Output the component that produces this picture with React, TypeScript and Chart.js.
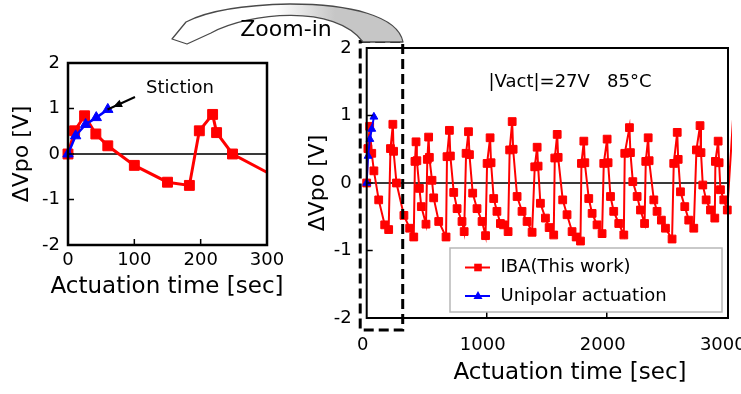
import React, { useEffect, useRef } from "react";
import { Chart, registerables } from "chart.js";

Chart.register(...registerables);

const FONT = "'DejaVu Sans', 'Liberation Sans', sans-serif";

// IBA (this work): actuation time [sec] and ΔVpo [V]
const ibaTime = [
  0, 10, 25, 42, 60, 100, 150, 183, 198, 218, 224, 248, 310, 358, 392,
  402, 411, 418, 439, 455, 494,
  505, 516, 522, 544, 558, 600, 661,
  669, 689, 697, 725, 753, 794, 812,
  828, 848, 856, 883, 919, 961, 990,
  1003, 1028, 1036, 1058, 1085, 1114, 1140, 1178,
  1191, 1212, 1220, 1253, 1294, 1336, 1378,
  1400, 1420, 1428, 1447, 1489, 1520, 1558,
  1567, 1587, 1595, 1633, 1669, 1711, 1745, 1781,
  1789, 1809, 1817, 1850, 1878, 1919, 1961,
  1975, 2003, 2011, 2031, 2058, 2100, 2142,
  2150, 2189, 2197, 2217, 2253, 2281, 2315,
  2325, 2345, 2353, 2392, 2419, 2455, 2489, 2544,
  2558, 2587, 2595, 2614, 2650, 2683, 2725,
  2747, 2777, 2785, 2800, 2828, 2864, 2900,
  2905, 2928, 2936, 2947, 2975, 3004, 3075,
];
const ibaDv = [
  0, 0.51, 0.84, 0.44, 0.18, -0.25, -0.62, -0.69, 0.51, 0.87, 0.47, 0, -0.48, -0.67, -0.8,
  0.32, 0.61, 0.33, -0.08, -0.35, -0.61,
  0.35, 0.68, 0.38, 0.04, -0.22, -0.57, -0.8,
  0.39, 0.78, 0.4, -0.14, -0.38, -0.57, -0.72,
  0.44, 0.76, 0.42, -0.15, -0.38, -0.57, -0.78,
  0.29, 0.67, 0.3, -0.23, -0.42, -0.6, -0.62, -0.72,
  0.49, 0.91, 0.5, -0.2, -0.42, -0.57, -0.73,
  0.24, 0.53, 0.25, -0.3, -0.52, -0.66, -0.77,
  0.37, 0.72, 0.38, -0.25, -0.47, -0.72, -0.8, -0.86,
  0.29, 0.62, 0.3, -0.23, -0.45, -0.62, -0.75,
  0.29, 0.65, 0.3, -0.2, -0.42, -0.6, -0.77,
  0.44, 0.82, 0.45, 0.02, -0.2, -0.4, -0.6,
  0.32, 0.67, 0.33, -0.25, -0.42, -0.55, -0.67, -0.83,
  0.29, 0.75, 0.35, -0.13, -0.35, -0.55, -0.67,
  0.49, 0.85, 0.45, -0.03, -0.25, -0.4, -0.52,
  0.32, 0.62, 0.3, -0.1, -0.25, -0.4, 1.6,
];

// Unipolar actuation: stiction after ~60 s
const uniTime = [0, 11.5, 26.5, 42.6, 60];
const uniDv = [0, 0.4, 0.65, 0.8, 0.98];

const yTicks = [-2, -1, 0, 1, 2];
const zoomXTicks = [0, 100, 200, 300];
const fullXTicks = [0, 1000, 2000, 3000];

const seriesLabels = ["IBA(This work)", "Unipolar actuation"];
const conditionText = "|Vact|=27V   85°C";
const stictionText = "Stiction";
const zoomText = "Zoom-in";
const xTitle = "Actuation time [sec]";
const yTitle = "ΔVpo [V]";

const RED = "#ff0000";
const BLUE = "#0000ff";

type Pt = { x: number; y: number };
const toPoints = (xs: number[], ys: number[]): Pt[] => xs.map((x, i) => ({ x, y: ys[i] }));

// zero line under the data; box frame, inward tick marks and x title on top
const boxAxes = {
  id: "boxAxes",
  beforeDatasetsDraw(chart: any, _a: any, o: any) {
    const { ctx, chartArea: a, scales } = chart;
    const y0 = scales.y.getPixelForValue(0);
    ctx.save();
    ctx.strokeStyle = "#3a3a3a";
    ctx.lineWidth = o.zeroWidth;
    ctx.beginPath();
    ctx.moveTo(a.left, y0);
    ctx.lineTo(a.right, y0);
    ctx.stroke();
    ctx.restore();
  },
  afterDatasetsDraw(chart: any, _a: any, o: any) {
    const { ctx, chartArea: a, scales } = chart;
    ctx.save();
    ctx.strokeStyle = "#000";
    ctx.lineWidth = o.frameWidth;
    ctx.strokeRect(a.left, a.top, a.right - a.left, a.bottom - a.top);
    ctx.lineWidth = o.tickWidth;
    ctx.beginPath();
    for (const t of scales.x.ticks) {
      if (t.value > scales.x.min && t.value < scales.x.max - 20) {
        const px = scales.x.getPixelForValue(t.value);
        ctx.moveTo(px, a.bottom);
        ctx.lineTo(px, a.bottom - o.tickLen);
      }
    }
    for (const t of scales.y.ticks) {
      if (t.value > scales.y.min && t.value < scales.y.max) {
        const py = scales.y.getPixelForValue(t.value);
        ctx.moveTo(a.left, py);
        ctx.lineTo(a.left + o.tickLen, py);
      }
    }
    ctx.stroke();

    ctx.fillStyle = "#000";
    ctx.font = `23px ${FONT}`;
    ctx.textAlign = "center";
    ctx.textBaseline = "middle";
    ctx.fillText(xTitle, o.titleX, o.titleY);
    ctx.restore();
  },
};

function buildOptions(c: {
  xMax: number;
  xTickValues: number[];
  yWidth: number;
  xHeight: number;
  padTop: number;
  padRight: number;
  xTickPad: number;
  yTickPad: number;
  xLabelOffset: number;
  yTitlePad: number;
  frameWidth: number;
  titleX: number;
  titleY: number;
}) {
  const tickFont = { family: FONT, size: 18 };
  const plain = (v: any) => String(v);
  return {
    responsive: false,
    maintainAspectRatio: false,
    animation: false as const,
    events: [],
    layout: { padding: { left: 0, right: c.padRight, top: c.padTop, bottom: 0 } },
    plugins: {
      legend: { display: false },
      tooltip: { enabled: false },
      boxAxes: {
        frameWidth: c.frameWidth,
        tickWidth: 1.5,
        tickLen: 6,
        zeroWidth: 2,
        titleX: c.titleX,
        titleY: c.titleY,
      },
    },
    scales: {
      x: {
        type: "linear" as const,
        min: 0,
        max: c.xMax,
        grid: { display: false, drawTicks: false },
        border: { display: false },
        ticks: {
          includeBounds: false,
          autoSkip: false,
          maxRotation: 0,
          padding: c.xTickPad,
          labelOffset: c.xLabelOffset,
          color: "#000",
          font: tickFont,
          callback: plain,
        },
        afterBuildTicks: (s: any) => {
          s.ticks = c.xTickValues.map((v) => ({ value: v }));
        },
        afterFit: (s: any) => {
          s.height = c.xHeight;
          s.paddingLeft = 0;
          s.paddingRight = 0;
        },
        title: { display: false },
      },
      y: {
        type: "linear" as const,
        min: -2,
        max: 2,
        grid: { display: false, drawTicks: false },
        border: { display: false },
        ticks: { padding: c.yTickPad, color: "#000", font: tickFont, callback: plain },
        afterBuildTicks: (s: any) => {
          s.ticks = yTicks.map((v) => ({ value: v }));
        },
        afterFit: (s: any) => {
          s.width = c.yWidth;
          s.paddingTop = 0;
          s.paddingBottom = 0;
        },
        title: {
          display: true,
          text: yTitle,
          color: "#000",
          font: { family: FONT, size: 22 },
          padding: { top: c.yTitlePad, bottom: 0 },
        },
      },
    },
  };
}

// "Stiction" label with its pointer arrow
const stictionNote = {
  id: "stictionNote",
  afterDraw(chart: any) {
    const { ctx } = chart;
    ctx.save();
    ctx.fillStyle = "#000";
    ctx.font = `18px ${FONT}`;
    ctx.textAlign = "center";
    ctx.textBaseline = "middle";
    ctx.fillText(stictionText, 180, 48);
    const x1 = 135, y1 = 57, x2 = 113, y2 = 67;
    const ang = Math.atan2(y2 - y1, x2 - x1);
    ctx.strokeStyle = "#000";
    ctx.lineWidth = 2;
    ctx.beginPath();
    ctx.moveTo(x1, y1);
    ctx.lineTo(x2 + 6 * Math.cos(ang), y2 + 6 * Math.sin(ang));
    ctx.stroke();
    ctx.beginPath();
    ctx.moveTo(x2, y2);
    ctx.lineTo(x2 - 9 * Math.cos(ang) + 4 * Math.sin(ang), y2 - 9 * Math.sin(ang) - 4 * Math.cos(ang));
    ctx.lineTo(x2 - 9 * Math.cos(ang) - 4 * Math.sin(ang), y2 - 9 * Math.sin(ang) + 4 * Math.cos(ang));
    ctx.closePath();
    ctx.fill();
    ctx.restore();
  },
};

// dashed zoom window, test condition and legend box
const overviewNotes = {
  id: "overviewNotes",
  afterDraw(chart: any) {
    const { ctx, chartArea: a, scales } = chart;
    ctx.save();
    // zoomed region 0–300 s
    const xr = scales.x.getPixelForValue(zoomXTicks[zoomXTicks.length - 1]);
    ctx.strokeStyle = "#000";
    ctx.lineWidth = 3;
    ctx.setLineDash([10, 5]);
    ctx.strokeRect(a.left - 6.5, a.top - 6.5, xr - (a.left - 6.5), a.bottom + 12 - (a.top - 6.5));
    ctx.setLineDash([]);

    ctx.fillStyle = "#000";
    ctx.font = `18px ${FONT}`;
    ctx.textAlign = "center";
    ctx.textBaseline = "middle";
    ctx.fillText(conditionText, 270, 52);

    // legend
    const bx = 150, by = 218, bw = 272, bh = 64;
    ctx.fillStyle = "#fff";
    ctx.fillRect(bx, by, bw, bh);
    ctx.strokeStyle = "#b8b8b8";
    ctx.lineWidth = 1.5;
    ctx.strokeRect(bx, by, bw, bh);
    const rows = [
      { y: 237.5, color: RED, style: "rect" },
      { y: 266, color: BLUE, style: "triangle" },
    ];
    rows.forEach((row, i) => {
      ctx.strokeStyle = row.color;
      ctx.fillStyle = row.color;
      ctx.lineWidth = 2;
      ctx.beginPath();
      ctx.moveTo(165, row.y);
      ctx.lineTo(190, row.y);
      ctx.stroke();
      ctx.beginPath();
      if (row.style === "rect") {
        ctx.rect(178 - 3.8, row.y - 3.8, 7.6, 7.6);
      } else {
        ctx.moveTo(178, row.y - 5);
        ctx.lineTo(182.5, row.y + 3);
        ctx.lineTo(173.5, row.y + 3);
        ctx.closePath();
      }
      ctx.fill();
      ctx.fillStyle = "#000";
      ctx.textAlign = "left";
      ctx.fillText(seriesLabels[i], 200.5, row.y);
    });
    ctx.restore();
  },
};

function ZoomChart() {
  const ref = useRef<HTMLCanvasElement | null>(null);
  useEffect(() => {
    if (!ref.current) return;
    const clip = { left: 8, top: 8, right: 1, bottom: 8 };
    const chart = new Chart(ref.current, {
      type: "line",
      data: {
        datasets: [
          {
            label: seriesLabels[1],
            data: toPoints(uniTime, uniDv),
            borderColor: BLUE,
            backgroundColor: BLUE,
            borderWidth: 2.5,
            pointStyle: "triangle",
            pointRadius: 6,
            pointBorderWidth: 1,
            tension: 0,
            order: 0,
            clip,
          },
          {
            label: seriesLabels[0],
            data: toPoints(ibaTime, ibaDv),
            borderColor: RED,
            backgroundColor: RED,
            borderWidth: 3,
            pointStyle: "rect",
            pointRadius: 7,
            pointBorderWidth: 1,
            tension: 0,
            order: 1,
            clip,
          },
        ],
      },
      options: buildOptions({
        xMax: 300,
        xTickValues: zoomXTicks,
        yWidth: 68,
        xHeight: 57,
        padTop: 23,
        padRight: 33,
        xTickPad: 5,
        yTickPad: 8,
        xLabelOffset: 0,
        yTitlePad: 9,
        frameWidth: 2.5,
        titleX: 167,
        titleY: 247,
      }) as any,
      plugins: [boxAxes, stictionNote],
    });
    return () => chart.destroy();
  }, []);
  return (
    <canvas
      ref={ref}
      width={300}
      height={262}
      style={{ position: "absolute", left: 0, top: 40, width: 300, height: 262 }}
    />
  );
}

function OverviewChart() {
  const ref = useRef<HTMLCanvasElement | null>(null);
  useEffect(() => {
    if (!ref.current) return;
    const clip = { left: 6, top: 6, right: 4, bottom: 6 };
    const chart = new Chart(ref.current, {
      type: "line",
      data: {
        datasets: [
          {
            label: seriesLabels[1],
            data: toPoints(uniTime, uniDv),
            borderColor: BLUE,
            backgroundColor: BLUE,
            borderWidth: 2,
            pointStyle: "triangle",
            pointRadius: 4.5,
            pointBorderWidth: 1,
            tension: 0,
            order: 0,
            clip,
          },
          {
            label: seriesLabels[0],
            data: toPoints(ibaTime, ibaDv),
            borderColor: RED,
            backgroundColor: RED,
            borderWidth: 2,
            pointStyle: "rect",
            pointRadius: 5.5,
            pointBorderWidth: 1,
            tension: 0,
            order: 1,
            clip,
          },
        ],
      },
      options: buildOptions({
        xMax: 3010,
        xTickValues: fullXTicks,
        yWidth: 66.7,
        xHeight: 76,
        padTop: 18,
        padRight: 13,
        xTickPad: 17,
        yTickPad: 15,
        xLabelOffset: -4,
        yTitlePad: 5,
        frameWidth: 2,
        titleX: 270,
        titleY: 343,
      }) as any,
      plugins: [boxAxes, overviewNotes],
    });
    return () => chart.destroy();
  }, []);
  return (
    <canvas
      ref={ref}
      width={441}
      height={364}
      style={{ position: "absolute", left: 300, top: 30, width: 441, height: 364 }}
    />
  );
}

// curved "Zoom-in" ribbon arrow from the dashed window to the zoomed plot
function ZoomArrow() {
  return (
    <svg
      width={741}
      height={60}
      viewBox="0 0 741 60"
      style={{ position: "absolute", left: 0, top: 0, pointerEvents: "none" }}
    >
      <defs>
        <linearGradient id="ribbonFill" gradientUnits="userSpaceOnUse" x1="275" y1="0" x2="335" y2="0">
          <stop offset="0" stopColor="#ffffff" />
          <stop offset="1" stopColor="#c6c6c6" />
        </linearGradient>
      </defs>
      <path
        d="M 403 42 C 398 16 350 4 290 4 C 240 5 205 12 186 22 L 172 39 L 187 44 L 211 33 C 250 12 335 4 363 42 Z"
        fill="url(#ribbonFill)"
        stroke="#4a4a4a"
        strokeWidth={1.3}
        strokeLinejoin="round"
      />
      <text x={286} y={36} fontFamily="DejaVu Sans" fontSize={22} textAnchor="middle" fill="#000">
        {zoomText}
      </text>
    </svg>
  );
}

export default function App() {
  return (
    <div
      style={{
        position: "absolute",
        left: 0,
        top: 0,
        width: 741,
        height: 394,
        background: "#fff",
        overflow: "hidden",
      }}
    >
      <ZoomChart />
      <OverviewChart />
      <ZoomArrow />
    </div>
  );
}
